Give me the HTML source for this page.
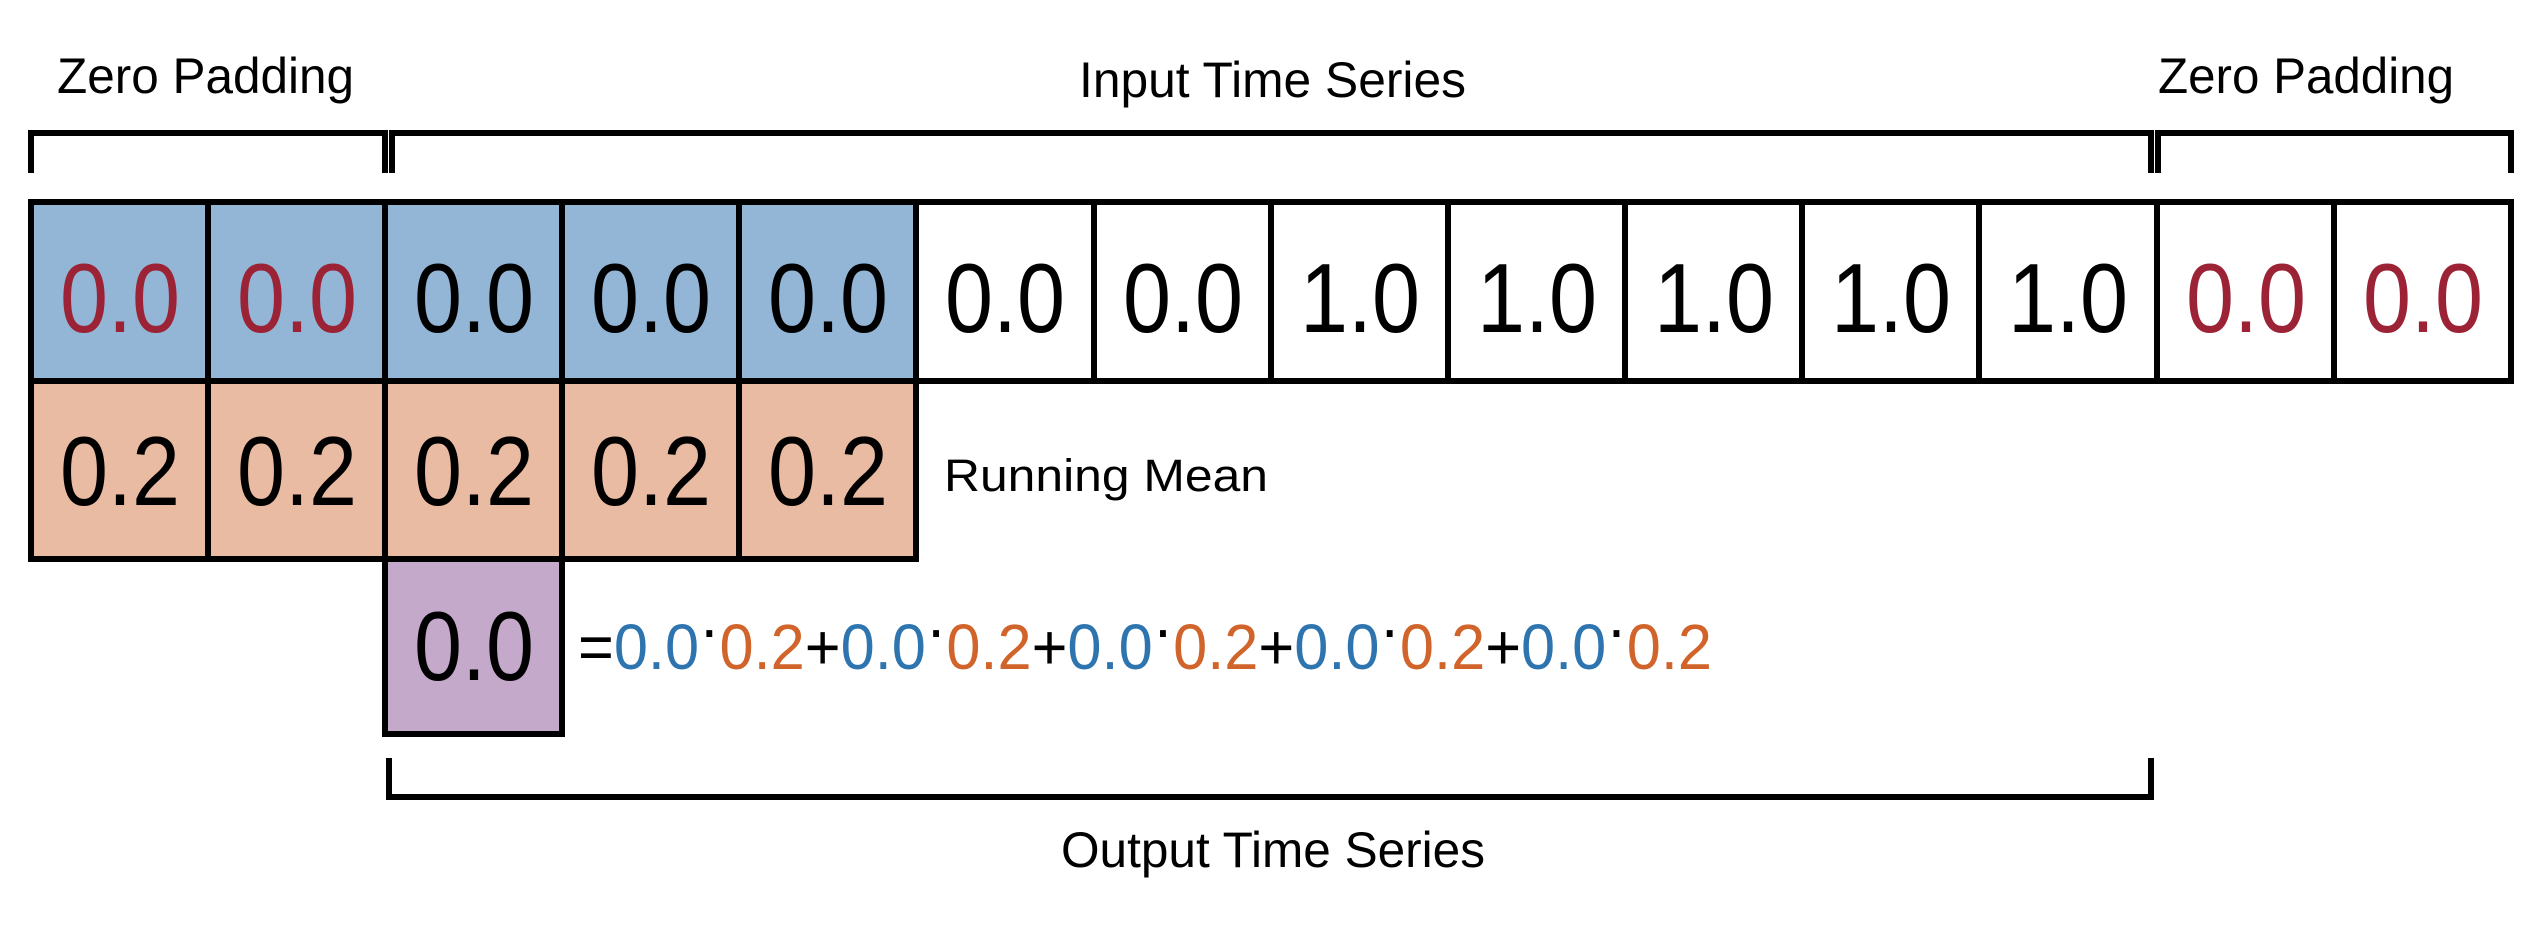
<!DOCTYPE html>
<html><head><meta charset="utf-8"><style>
html,body{margin:0;padding:0;background:#fff;}
svg{display:block;}
text{font-family:"Liberation Sans",sans-serif;}
</style></head><body>
<svg width="2540" height="942" viewBox="0 0 2540 942" xmlns="http://www.w3.org/2000/svg">
<rect width="2540" height="942" fill="#fff"/>
<text x="57" y="93" font-size="50" textLength="297" lengthAdjust="spacingAndGlyphs">Zero Padding</text>
<text x="1079" y="97" font-size="50" textLength="387" lengthAdjust="spacingAndGlyphs">Input Time Series</text>
<text x="2158" y="93" font-size="50" textLength="296" lengthAdjust="spacingAndGlyphs">Zero Padding</text>
<g fill="none" stroke="#000" stroke-width="6">
<polyline points="31,173 31,133 385,133 385,173"/>
<polyline points="392,173 392,133 2151,133 2151,173"/>
<polyline points="2158,173 2158,133 2511,133 2511,173"/>
<polyline points="389,758 389,797 2151,797 2151,758"/>
</g>
<rect x="31" y="202" width="885" height="179" fill="#93b5d6"/>
<rect x="31" y="381" width="885" height="178" fill="#eabba3"/>
<rect x="385" y="559" width="177" height="175" fill="#c5a9cb"/>
<g fill="none" stroke="#000" stroke-width="6">
<rect x="31" y="202" width="2480" height="179"/>
<line x1="208" y1="202" x2="208" y2="381"/><line x1="385" y1="202" x2="385" y2="381"/>
<line x1="562" y1="202" x2="562" y2="381"/><line x1="739" y1="202" x2="739" y2="381"/>
<line x1="916" y1="202" x2="916" y2="381"/><line x1="1094" y1="202" x2="1094" y2="381"/>
<line x1="1271" y1="202" x2="1271" y2="381"/><line x1="1448" y1="202" x2="1448" y2="381"/>
<line x1="1625" y1="202" x2="1625" y2="381"/><line x1="1802" y1="202" x2="1802" y2="381"/>
<line x1="1979" y1="202" x2="1979" y2="381"/><line x1="2157" y1="202" x2="2157" y2="381"/>
<line x1="2334" y1="202" x2="2334" y2="381"/>
<rect x="31" y="381" width="885" height="178"/>
<line x1="208" y1="381" x2="208" y2="559"/><line x1="385" y1="381" x2="385" y2="559"/>
<line x1="562" y1="381" x2="562" y2="559"/><line x1="739" y1="381" x2="739" y2="559"/>
<rect x="385" y="559" width="177" height="175"/>
</g>
<g font-size="98" text-anchor="middle" lengthAdjust="spacingAndGlyphs">
<text x="120" y="332" fill="#9b2335" textLength="120" lengthAdjust="spacingAndGlyphs">0.0</text>
<text x="297" y="332" fill="#9b2335" textLength="120" lengthAdjust="spacingAndGlyphs">0.0</text>
<text x="474" y="332" textLength="120" lengthAdjust="spacingAndGlyphs">0.0</text>
<text x="651" y="332" textLength="120" lengthAdjust="spacingAndGlyphs">0.0</text>
<text x="828" y="332" textLength="120" lengthAdjust="spacingAndGlyphs">0.0</text>
<text x="1005" y="332" textLength="120" lengthAdjust="spacingAndGlyphs">0.0</text>
<text x="1183" y="332" textLength="120" lengthAdjust="spacingAndGlyphs">0.0</text>
<text x="1360" y="332" textLength="120" lengthAdjust="spacingAndGlyphs">1.0</text>
<text x="1537" y="332" textLength="120" lengthAdjust="spacingAndGlyphs">1.0</text>
<text x="1714" y="332" textLength="120" lengthAdjust="spacingAndGlyphs">1.0</text>
<text x="1891" y="332" textLength="120" lengthAdjust="spacingAndGlyphs">1.0</text>
<text x="2068" y="332" textLength="120" lengthAdjust="spacingAndGlyphs">1.0</text>
<text x="2246" y="332" fill="#9b2335" textLength="120" lengthAdjust="spacingAndGlyphs">0.0</text>
<text x="2423" y="332" fill="#9b2335" textLength="120" lengthAdjust="spacingAndGlyphs">0.0</text>
<text x="120" y="505" textLength="120" lengthAdjust="spacingAndGlyphs">0.2</text>
<text x="297" y="505" textLength="120" lengthAdjust="spacingAndGlyphs">0.2</text>
<text x="474" y="505" textLength="120" lengthAdjust="spacingAndGlyphs">0.2</text>
<text x="651" y="505" textLength="120" lengthAdjust="spacingAndGlyphs">0.2</text>
<text x="828" y="505" textLength="120" lengthAdjust="spacingAndGlyphs">0.2</text>
<text x="474" y="680" textLength="120" lengthAdjust="spacingAndGlyphs">0.0</text>
</g>
<text x="944" y="491" font-size="45" textLength="324" lengthAdjust="spacingAndGlyphs">Running Mean</text>
<text x="578" y="669" font-size="64" textLength="1134" lengthAdjust="spacingAndGlyphs"><tspan>=</tspan><tspan fill="#2e75b0">0.0</tspan><tspan dy="-18">·</tspan><tspan dy="18" fill="#d0642a">0.2</tspan><tspan>+</tspan><tspan fill="#2e75b0">0.0</tspan><tspan dy="-18">·</tspan><tspan dy="18" fill="#d0642a">0.2</tspan><tspan>+</tspan><tspan fill="#2e75b0">0.0</tspan><tspan dy="-18">·</tspan><tspan dy="18" fill="#d0642a">0.2</tspan><tspan>+</tspan><tspan fill="#2e75b0">0.0</tspan><tspan dy="-18">·</tspan><tspan dy="18" fill="#d0642a">0.2</tspan><tspan>+</tspan><tspan fill="#2e75b0">0.0</tspan><tspan dy="-18">·</tspan><tspan dy="18" fill="#d0642a">0.2</tspan></text>
<text x="1061" y="867" font-size="50" textLength="424" lengthAdjust="spacingAndGlyphs">Output Time Series</text>
</svg>
</body></html>
